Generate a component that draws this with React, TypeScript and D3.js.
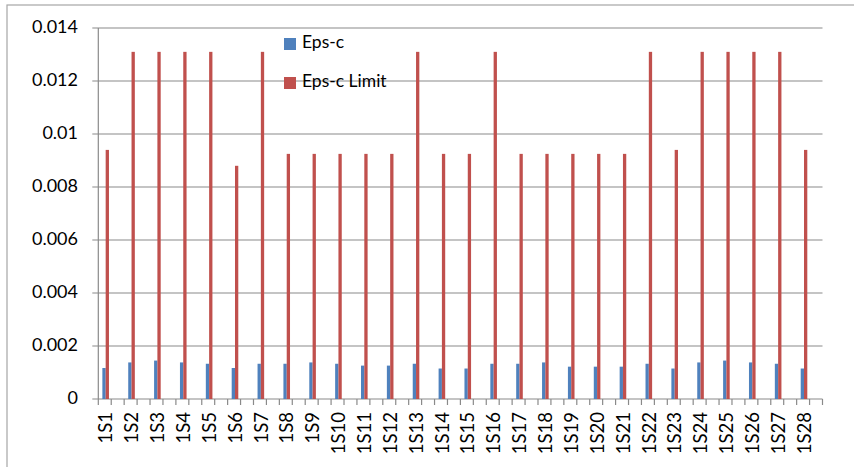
import React from "react";
import * as d3 from "d3";

const categories = ["1S1","1S2","1S3","1S4","1S5","1S6","1S7","1S8","1S9","1S10","1S11","1S12","1S13","1S14","1S15","1S16","1S17","1S18","1S19","1S20","1S21","1S22","1S23","1S24","1S25","1S26","1S27","1S28"];
const epsC = [0.00117,0.00138,0.00145,0.00138,0.00133,0.00117,0.00133,0.00133,0.00138,0.00133,0.00126,0.00126,0.00133,0.00115,0.00115,0.00133,0.00133,0.00138,0.00122,0.00122,0.00122,0.00133,0.00115,0.00138,0.00145,0.00138,0.00133,0.00115];
const epsCLimit = [0.0094,0.0131,0.0131,0.0131,0.0131,0.0088,0.0131,0.00925,0.00925,0.00925,0.00925,0.00925,0.0131,0.00925,0.00925,0.0131,0.00925,0.00925,0.00925,0.00925,0.00925,0.0131,0.0094,0.0131,0.0131,0.0131,0.0131,0.0094];
const yTicks = [0,0.002,0.004,0.006,0.008,0.01,0.012,0.014];
const yTickLabels = ["0","0.002","0.004","0.006","0.008","0.01","0.012","0.014"];
const seriesNames = ["Eps-c","Eps-c Limit"];

const BLUE = "#4F81BD";
const RED = "#C0504D";
const GRID = "#8a8a8a";
const FONT = "Lato, 'Open Sans', sans-serif";

export default function App() {
  const W = 854, H = 467;
  const left = 98.3, right = 822.5, top = 28, bottom = 399;
  const slots = categories.length * 2;
  const x = d3.scaleLinear().domain([0, slots]).range([left, right]);
  const y = d3.scaleLinear().domain([0, 0.014]).range([bottom, top]);
  const bw = 3.3;
  const ticksX = d3.range(0, slots + 1);

  return (
    <svg width={W} height={H} style={{ position: "absolute", left: 0, top: 0, background: "#fff" }}>
      <rect x={7} y={5} width={W + 20} height={H + 20} fill="#fff" stroke="#a6a6a6" strokeWidth={1.2} />
      {yTicks.map((t, i) => (
        <g key={"y" + i}>
          <line x1={left - 6} x2={right} y1={y(t)} y2={y(t)} stroke={GRID} strokeWidth={1.2} />
          <text x={78} y={y(t)} textAnchor="end" dominantBaseline="middle" fontFamily={FONT} fontSize={18} fill="#000">
            {yTickLabels[i]}
          </text>
        </g>
      ))}
      <line x1={left} x2={left} y1={top} y2={bottom} stroke={GRID} strokeWidth={1.2} />
      {ticksX.map((k) => (
        <line key={"t" + k} x1={x(k)} x2={x(k)} y1={bottom} y2={bottom + 6} stroke={GRID} strokeWidth={1.2} />
      ))}
      {categories.map((c, i) => {
        const cx = x(2 * i + 0.5) + 0.9;
        return (
          <g key={c}>
            <rect x={cx - bw} y={y(epsC[i])} width={bw} height={y(0) - y(epsC[i])} fill={BLUE} />
            <rect x={cx} y={y(epsCLimit[i])} width={bw} height={y(0) - y(epsCLimit[i])} fill={RED} />
            <text
              transform={`translate(${cx + 2},${412}) rotate(-90)`}
              textAnchor="end"
              dominantBaseline="middle"
              fontFamily={FONT}
              fontSize={18.5}
              fill="#000"
            >
              {c}
            </text>
          </g>
        );
      })}
      {seriesNames.map((n, i) => (
        <g key={n}>
          <rect x={284} y={38 + i * 39} width={12} height={12} fill={i === 0 ? BLUE : RED} />
          <text x={302} y={44 + i * 39} dominantBaseline="middle" fontFamily={FONT} fontSize={17.5} fill="#000">
            {n}
          </text>
        </g>
      ))}
    </svg>
  );
}
